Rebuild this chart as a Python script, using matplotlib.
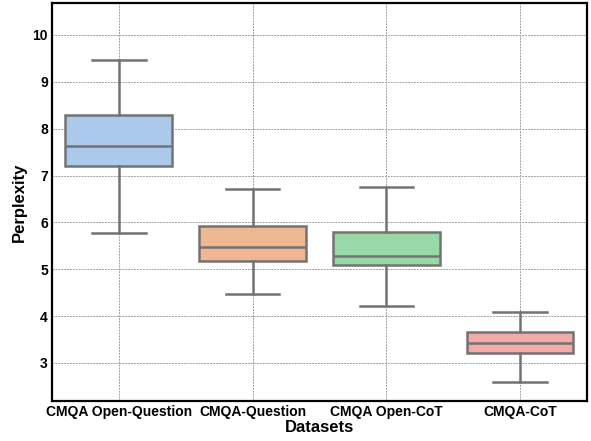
import matplotlib
matplotlib.use("Agg")
import matplotlib.pyplot as plt
import seaborn as sns

datasets = ["CMQA Open-Question", "CMQA-Question", "CMQA Open-CoT", "CMQA-CoT"]
whislo = [5.78, 4.47, 4.21, 2.60]
q1 = [7.21, 5.18, 5.10, 3.21]
median = [7.64, 5.48, 5.28, 3.43]
q3 = [8.30, 5.92, 5.80, 3.66]
whishi = [9.47, 6.72, 6.75, 4.08]

plt.rcParams["font.family"] = ["Liberation Sans", "DejaVu Sans"]
plt.rcParams["font.weight"] = "bold"

colors = [sns.desaturate(c, 0.75) for c in sns.color_palette("pastel", 4)]
line_color = "#737373"

fig = plt.figure(figsize=(5.91, 4.41), dpi=100)
ax = fig.add_axes([0.088, 0.091, 0.905, 0.902])

stats = [
    dict(label=name, whislo=lo, q1=a, med=m, q3=b, whishi=hi, fliers=[])
    for name, lo, a, m, b, hi in zip(datasets, whislo, q1, median, q3, whishi)
]
line_kw = dict(color=line_color, linewidth=1.8)
parts = ax.bxp(
    stats, positions=range(len(datasets)), widths=0.8, patch_artist=True,
    showfliers=False, boxprops=dict(edgecolor=line_color, linewidth=1.8),
    medianprops=line_kw, whiskerprops=line_kw, capprops=line_kw,
)
for patch, c in zip(parts["boxes"], colors):
    patch.set_facecolor(c)
    patch.set_zorder(2)

ax.set_xlim(-0.5, 3.5)
ax.set_ylim(2.19, 10.68)
ax.set_yticks(range(3, 11))
ax.set_xticks(range(len(datasets)))
ax.set_xticklabels(datasets, fontsize=10, fontweight="bold")
ax.tick_params(axis="y", labelsize=10, length=0, pad=3)
ax.tick_params(axis="x", length=0, pad=3)
ax.grid(True, linestyle=(0, (2, 1)), color="#a0a0a0", linewidth=0.7)
ax.set_axisbelow(True)
for s in ax.spines.values():
    s.set_color("black")
    s.set_linewidth(1.6)

ax.set_xlabel("Datasets", fontsize=12, fontweight="bold", labelpad=1)
ax.set_ylabel("Perplexity", fontsize=12, fontweight="bold", labelpad=4)

fig.savefig("out.png", dpi=100)
